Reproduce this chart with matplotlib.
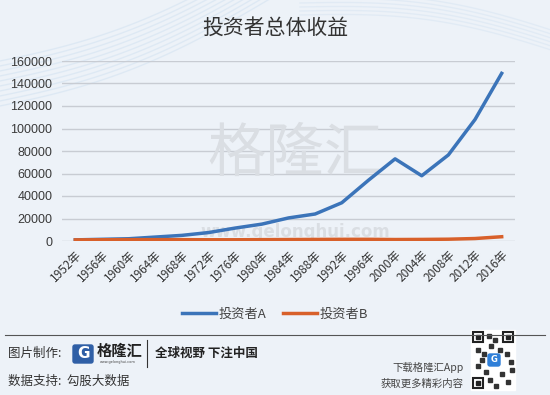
import numpy as np
import matplotlib.pyplot as plt
from matplotlib.patches import Rectangle, FancyBboxPatch

plt.rcParams['font.family'] = ['Noto Sans CJK SC', 'DejaVu Sans']

years = ['1952年', '1956年', '1960年', '1964年', '1968年', '1972年', '1976年', '1980年',
         '1984年', '1988年', '1992年', '1996年', '2000年', '2004年', '2008年', '2012年', '2016年']
investor_a = [1000, 1500, 2000, 3500, 5000, 7500, 11500, 15000, 20500, 24000,
              34000, 54000, 73000, 58000, 76500, 108000, 149000]
investor_b = [1000, 1100, 1200, 1200, 1200, 1100, 1100, 1200, 1300, 1400,
              1500, 1500, 1300, 1400, 1600, 2200, 3800]
yticks = [0, 20000, 40000, 60000, 80000, 100000, 120000, 140000, 160000]

bg = '#edf2f8'
fig = plt.figure(figsize=(5.5, 3.95), dpi=100, facecolor=bg)

# faint decorative waves along the top
deco = fig.add_axes([0, 0, 1, 1], zorder=-1)
deco.set_xlim(0, 550)
deco.set_ylim(395, 0)
deco.axis('off')
t = np.linspace(0, 1, 60)
for k in range(10):
    deco.plot(-20 + 300 * t, 110 - 120 * t - k * 5 + 20 * np.sin(t * 3),
              color='#cfe0f0', lw=1.0, alpha=0.5)
for k in range(6):
    deco.plot(300 + 260 * t, -5 + 40 * t + k * 4 - 15 * np.sin(t * 3),
              color='#d6e4f2', lw=1.0, alpha=0.5)

ax = fig.add_axes([62 / 550, 1 - 241 / 395, 453 / 550, 180 / 395])
ax.set_facecolor('none')
x = np.arange(len(years))
ax.plot(x, investor_a, color='#3b74b9', lw=2.5, label='投资者A', zorder=3)
ax.plot(x, investor_b, color='#d8602a', lw=2.5, label='投资者B', zorder=3)

ax.set_xlim(-0.5, len(years) - 0.5)
ax.set_ylim(0, 160000)
ax.set_yticks(yticks)
ax.set_yticklabels([str(v) for v in yticks], fontsize=9, color='#3a3a3a',
                   family=['Liberation Sans', 'DejaVu Sans'])
ax.set_xticks(x)
ax.set_xticklabels(years, rotation=45, ha='right', va='top', rotation_mode='anchor',
                   fontsize=8.5, color='#333333')
ax.tick_params(length=0, pad=7)
ax.tick_params(axis='x', pad=5)
ax.grid(axis='y', color='#c8ccd3', lw=1)
for s in ax.spines.values():
    s.set_visible(False)
ax.set_axisbelow(True)

# watermark
ax.text(0.515, 0.48, '格隆汇', transform=ax.transAxes, fontsize=42, color='#dadee3',
        ha='center', va='center', zorder=1)
ax.text(0.515, 0.05, 'www.gelonghui.com', transform=ax.transAxes, fontsize=12,
        color='#dadee3', ha='center', va='center', fontweight='bold', zorder=1,
        family=['DejaVu Sans'])

fig.text(0.5, 1 - 28 / 395, '投资者总体收益', ha='center', va='center',
         fontsize=15, color='#333333')

fig.legend(loc='center', bbox_to_anchor=(0.5, 1 - 314 / 395), ncol=2, frameon=False,
           fontsize=9.5, handlelength=2.6, columnspacing=1.2, handletextpad=0.2,
           labelcolor='#444444')

# footer
deco.plot([5, 545], [335, 335], color='#555555', lw=0.8)
deco.text(8, 353, '图片制作:', fontsize=9, color='#333333', va='center')
deco.add_patch(FancyBboxPatch((73, 345), 20, 18, boxstyle='round,pad=0,rounding_size=2',
                              color='#2f5fa6'))
deco.text(83, 354, 'G', fontsize=11, color='white', ha='center', va='center',
          fontweight='bold', family=['DejaVu Sans'])
deco.text(97, 351, '格隆汇', fontsize=11, color='#222222', va='center', fontweight='bold')
deco.text(118, 362, 'www.gelonghui.com', fontsize=2.5, color='#444444', ha='center',
          va='center', family=['DejaVu Sans'])
deco.plot([147, 147], [340, 367], color='#333333', lw=0.8)
deco.text(155, 353, '全球视野 下注中国', fontsize=9, color='#222222', va='center',
          fontweight='bold')
deco.text(8, 381, '数据支持:  勾股大数据', fontsize=9, color='#333333', va='center')
deco.text(464, 367, '下载格隆汇App', fontsize=7.5, color='#444444', ha='right', va='center')
deco.text(464, 384, '获取更多精彩内容', fontsize=7.5, color='#444444', ha='right', va='center')

# simple QR-like block
deco.add_patch(Rectangle((471, 330), 44, 60, color='white'))
for (qx, qy) in [(473, 332), (503, 332), (473, 378)]:
    deco.add_patch(Rectangle((qx, qy), 10, 10, fill=False, ec='#222222', lw=1.5))
    deco.add_patch(Rectangle((qx + 3, qy + 3), 4, 4, color='#222222'))
pattern = [(487, 334), (493, 338), (489, 344), (476, 348), (482, 352), (498, 348),
           (505, 352), (509, 360), (476, 364), (484, 370), (500, 372), (506, 380),
           (494, 384), (488, 378), (510, 368), (480, 358)]
for (qx, qy) in pattern:
    deco.add_patch(Rectangle((qx, qy), 4, 4, color='#333333'))
deco.add_patch(FancyBboxPatch((488, 354), 12, 12, boxstyle='round,pad=0,rounding_size=2',
                              color='#2f7fd8'))
deco.text(494, 360, 'G', fontsize=6, color='white', ha='center', va='center',
          fontweight='bold', family=['DejaVu Sans'])

fig.savefig('out.png', dpi=100, facecolor=bg)
